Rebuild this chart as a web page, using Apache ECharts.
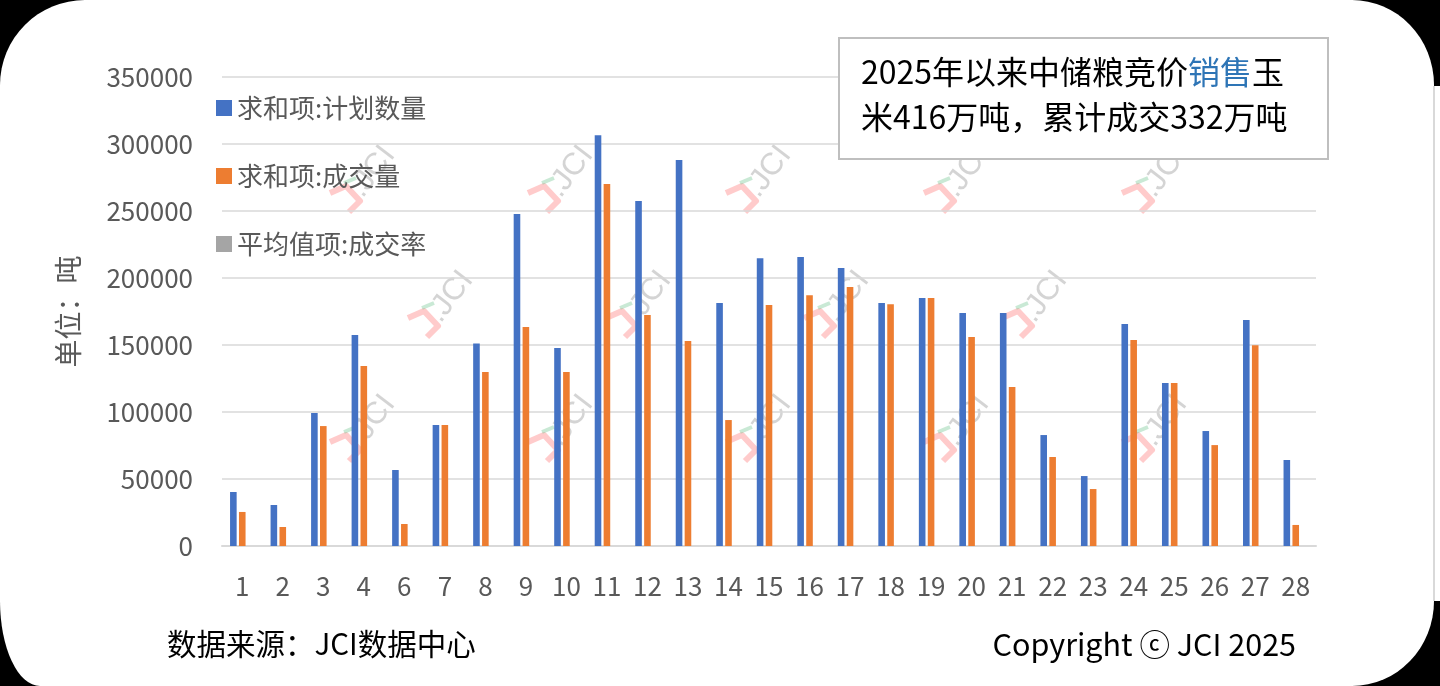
<!DOCTYPE html>
<html>
<head>
<meta charset="utf-8">
<script src="https://cdn.jsdelivr.net/npm/echarts@6/dist/echarts.min.js"></script>
<style>
html,body{margin:0;padding:0;background:#000;width:1440px;height:686px;overflow:hidden;}
#panel{position:absolute;left:0;top:0;width:1434px;height:686px;background:#fff;border-radius:85px 82px 82px 40px / 85px 85px 85px 85px;}
#strip{position:absolute;left:1433px;top:86px;width:7px;height:515px;background:#fff;border-left:2px solid #d9d9d9;box-sizing:border-box;}
#chart{position:absolute;left:0;top:0;width:1440px;height:686px;}
</style>
</head>
<body>
<div id="panel"></div>
<div id="strip"></div>
<div id="chart"></div>
<script>
// ---- data ----
var categories = ['1','2','3','4','6','7','8','9','10','11','12','13','14','15','16','17','18','19','20','21','22','23','24','25','26','27','28'];
var planned = [40300,30600,99200,157400,56700,90300,151200,247700,147700,306600,257400,288000,181300,214800,215600,207400,181300,185000,173800,173800,82800,52200,165600,121600,85800,168600,64200];
var traded  = [25400,14200,89500,134300,16400,90300,129800,163400,129800,270100,172300,152900,94000,179800,187200,193200,180500,185000,155900,118600,66400,42500,153700,121600,75300,149900,15700];
var rate    = []; // 成交率 (secondary measure, not visible on the tonnage axis)
var seriesNames = ['求和项:计划数量','求和项:成交量','平均值项:成交率'];
var yTicks = {min:0, max:350000, interval:50000};
var yName = '单位：吨';
var noteLine1 = ['2025年以来中储粮竞价','销售','玉'];
var noteLine2 = '米416万吨，累计成交332万吨';
var sourceText = '数据来源：JCI数据中心';
var copyrightText = 'Copyright ⓒ JCI 2025';

var FONT = '"Noto Sans CJK SC","Noto Sans",sans-serif';
var chart = echarts.init(document.getElementById('chart'), null, {renderer:'canvas'});

// watermark positions
var wmRows = [
  {y:183, xs:[370,568,766,964,1162]},
  {y:308, xs:[448,646,844,1042]},
  {y:432, xs:[370,568,766,964,1162]}
];
var graphics = [];
wmRows.forEach(function(r){
  r.xs.forEach(function(x){
    graphics.push({
      type:'group', x:x, y:r.y, z:0, silent:true,
      children:[
        {type:'polyline', shape:{points:[[-40,10],[-24,3],[-10,18],[-21,29]]}, style:{stroke:'rgba(255,160,160,0.55)', lineWidth:6, fill:null, lineJoin:'round'}},
        {type:'line', shape:{x1:-26,y1:0,x2:-14,y2:-5}, style:{stroke:'rgba(120,200,150,0.4)', lineWidth:4}},
        {type:'text', x:-2, y:20, rotation:0.92, style:{text:'.JCI', fill:'rgba(170,170,170,0.5)', font:'31px "Liberation Sans"', textAlign:'left', textVerticalAlign:'bottom'}}
      ]
    });
  });
});
// note box
graphics.push({type:'rect', shape:{x:839,y:38,width:489,height:121}, style:{fill:'#fff', stroke:'#bfbfbf', lineWidth:2}, z:10});
graphics.push({type:'text', x:861, y:72, z:11, style:{
  text:'{a|'+noteLine1[0]+'}{b|'+noteLine1[1]+'}{a|'+noteLine1[2]+'}',
  textVerticalAlign:'middle',
  rich:{a:{fontSize:32, fontFamily:FONT, fill:'#000', color:'#000'}, b:{fontSize:32, fontFamily:FONT, fill:'#2e75b6', color:'#2e75b6'}}
}});
graphics.push({type:'text', x:861, y:117, z:11, style:{text:noteLine2, font:'32px '+FONT, fill:'#000', textVerticalAlign:'middle'}});
graphics.push({type:'text', x:167, y:644, style:{text:sourceText, font:'29.5px '+FONT, fill:'#000', textVerticalAlign:'middle'}});
graphics.push({type:'text', x:1296, y:644, style:{text:copyrightText, font:'30.5px '+FONT, fill:'#000', textAlign:'right', textVerticalAlign:'middle'}});

var option = {
  backgroundColor:'transparent',
  animation:false,
  textStyle:{fontFamily:FONT},
  grid:{left:222, right:124, top:77, bottom:140, containLabel:false},
  legend:{
    orient:'vertical', left:211, top:90, icon:'rect', itemWidth:16, itemHeight:16, itemGap:42,
    textStyle:{fontSize:26, color:'#595959', fontFamily:FONT, lineHeight:26},
    data:seriesNames
  },
  xAxis:{
    type:'category', data:categories,
    axisLine:{lineStyle:{color:'#d9d9d9', width:2}},
    axisTick:{show:false},
    axisLabel:{fontSize:26, color:'#595959', margin:27, fontFamily:FONT, interval:0}
  },
  yAxis:{
    type:'value', min:yTicks.min, max:yTicks.max, interval:yTicks.interval,
    name:yName, nameLocation:'middle', nameRotate:90, nameGap:140,
    nameTextStyle:{fontSize:28, color:'#595959', fontFamily:FONT},
    axisLine:{show:false}, axisTick:{show:false},
    axisLabel:{fontSize:26, color:'#595959', margin:29, fontFamily:FONT, formatter:function(v){return String(v);}},
    splitLine:{lineStyle:{color:'#d9d9d9', width:1.5}}
  },
  series:[
    {name:seriesNames[0], type:'bar', data:planned, barWidth:6.6, barGap:'35%', itemStyle:{color:'#4472c4'}},
    {name:seriesNames[1], type:'bar', data:traded, barWidth:6.6, barGap:'35%', itemStyle:{color:'#ed7d31'}},
    {name:seriesNames[2], type:'bar', data:rate, barWidth:6.6, barGap:'35%', itemStyle:{color:'#a5a5a5'}}
  ],
  graphic:graphics
};
chart.setOption(option);
</script>
</body>
</html>
